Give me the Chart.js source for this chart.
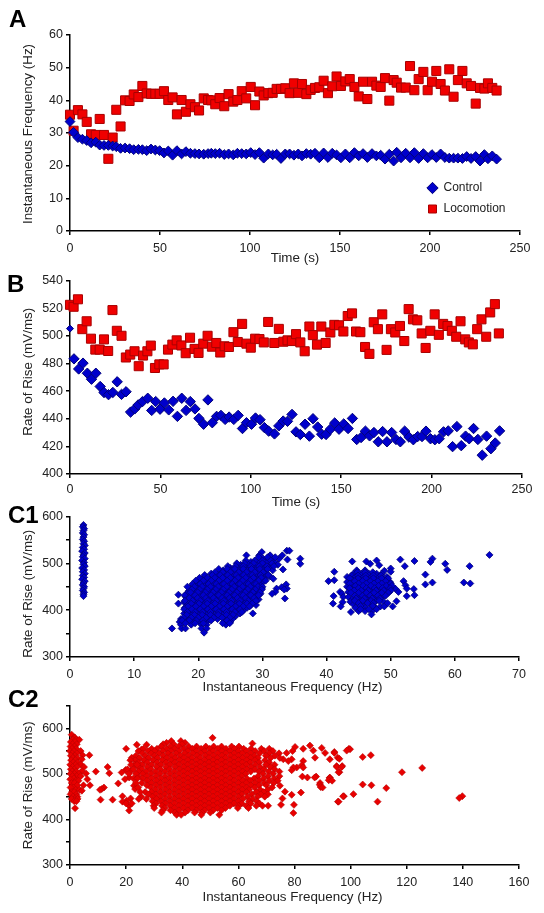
<!DOCTYPE html>
<html>
<head>
<meta charset="utf-8">
<script src="https://cdn.jsdelivr.net/npm/chart.js@4"></script>
<style>
html,body{margin:0;padding:0;background:#fff;width:544px;height:913px;overflow:hidden}
canvas{position:absolute;left:0}
.panel{position:absolute;font:bold 24px "Liberation Sans",Arial,sans-serif;color:#000;line-height:24px}
</style>
</head>
<body>
<canvas id="a" width="544" height="270" style="top:0"></canvas>
<canvas id="b" width="544" height="240" style="top:270px"></canvas>
<canvas id="c1" width="544" height="190" style="top:505px"></canvas>
<canvas id="c2" width="544" height="218" style="top:695px"></canvas>
<div class="panel" style="left:9px;top:7px">A</div>
<div class="panel" style="left:7px;top:272px">B</div>
<div class="panel" style="left:8px;top:503px">C1</div>
<div class="panel" style="left:8px;top:687px">C2</div>
<script>
// Panel A
const timeA=[0,2,4.4,6.9,9.3,11.7,14.3,16.5,18.9,21.3,23.7,25.7,28.1,30.6,33.1,35.4,38,40.2,42.6,45,47.4,49.8,52.2,54.6,57,59.4,62,64.4,66.9,69.4,71.7,74.3,76.7,78.5,80.7,83.1,85.7,88.1,90.7,93,95.4,97.9,100.4,102.8,105.2,107.6,110.2,112.6,114.8,117.2,119.6,122,124.4,126.8,128.9,131.3,133.7,136.1,138.5,140.9,143.3,145.7,148.1,150.5,153,155.4,158,160.4,162.8,165.2,167.8,170.2,172.6,175,177.4,179.8,181.5,183.9,186.5,188.9,191.3,193.7,196.3,198.7,201.1,203.5,205.9,208.3,210.7,213.1,215.5,218,220.4,222.8,225.4,227.8,230.2,232.2,234.6,237];
const locoFreqA=[35.6,30.7,37,35.7,33.4,29.6,29.4,34.3,29.4,22.1,28.6,37.1,32,40,39.8,41.8,41,44.4,42.1,42,42,42,42.8,40.1,40.9,35.7,40.1,36.5,38.8,37.9,36.9,40.6,40.1,40,38.8,40.7,38.2,41.9,39.6,40.1,42.8,40.6,44.1,38.5,42.7,41.5,42.2,42.3,43.5,43.5,43.7,42.2,45.2,42.3,45,41.9,43.2,43.8,44,46,42.2,44.3,47.3,44.4,45.8,46.5,44.1,41.2,45.7,40.4,45.7,44.5,44.1,46.8,39.9,46.2,45.4,43.9,43.9,50.5,43.1,46.5,48.7,43.1,45.7,49,45,43,49.5,41.1,46.2,49,45.2,44.4,39,43.8,43.6,45.2,43.8,43];
const controlFreqA=[33.5,30.2,28.6,28.1,27.7,27,27.2,26.3,26.2,26.2,26,25.8,25.3,25.4,25.2,24.9,25,24.9,24.6,25.1,24.8,24.6,23.9,24.5,23.2,24.6,23.6,24.3,23.8,23.7,23.6,23.5,23.7,23.8,23.7,23.8,23.4,23.6,23.3,23.8,23.7,23.6,24,23.4,24,22.3,23.6,23.3,23.5,22.2,23.6,23.6,23.2,23.6,23,23.7,23.5,23.8,22.4,23.9,22.5,23.8,23.3,22.4,23.6,22.4,24,23,23.7,22.5,23.7,23,23.2,22,23.5,21.4,24.1,22.4,23.8,22.4,24,22.2,23.7,22.4,23.4,22.5,23.6,22.5,22.3,22.3,22.3,22.2,22.8,22.2,22.8,21.4,23.4,22.1,23,22];
// Panel B
const locoTimeB=[0,2,4.4,6.8,9.2,11.6,14,16.4,18.8,21.1,23.5,25.9,28.5,30.9,33.3,35.7,38,40.4,42.8,44.7,47,49.4,51.8,54.2,56.6,59,61.6,64,66.4,68.9,71.1,73.7,76.1,78.5,80.9,83.1,85.5,87.9,90.4,92.8,95.2,97.6,100,102.4,104.8,107.2,109.6,113,115.5,118,120.3,122.7,125,127.4,129.8,132.4,134.3,136.6,139,141.4,144,146.2,148.8,151.2,153.6,156,158.2,160.6,163.2,165.6,168,170.3,172.7,175.1,177.5,179.9,182.5,184.9,187.3,189.7,192.1,194.5,196.7,199.3,201.7,204,206.4,208.8,211.2,213.6,216,218.6,220.6,222.8,225.2,227.6,230.2,232.4,235,237.2];
const locoRiseB=[522.4,521,526.4,504.8,510.5,497.9,490,490,497.4,489,518.6,503.6,500,484.3,486.4,488.8,478,485.7,488.8,492.9,476.7,479.3,479.3,490,493.6,496.7,493,487.4,498.6,490.5,487.6,494.3,500,492.1,494.8,487.9,492.4,491.9,502.6,495.5,508.6,494.3,491.4,497.9,497.6,495.2,510,494.8,505,495.7,496.7,496.2,501.2,495.2,488.8,506.7,500.5,493.6,506.7,494.8,502.4,507.9,507.6,503.1,514.3,516.2,503.1,502.6,491.9,486.9,509.8,504.8,515.5,489.8,504.8,502.4,507.1,496.2,519.3,511.9,511.2,501.7,491.2,503.6,515.5,500.7,508.6,507.1,503.6,499.3,510.5,497.4,495.2,493.8,504.8,511.9,499.3,516.9,522.9,501.7];
const controlTimeB=[0,2.2,4.8,7.2,9.6,11.9,14.3,16.7,18.8,21.3,23.7,26.1,28.5,31,33.5,35.8,37.7,40.1,43,45.2,47.4,49.8,52.2,54.6,57,59.4,61.8,64.2,66.5,69.1,71.3,73.9,76.3,78.7,81.1,83.5,85.8,88,90.6,93,95.4,97.6,100.4,102.6,105.1,107.5,109.9,113.1,115.5,117.9,120.3,122.8,125,127.4,130,132.4,134.4,137,139.2,141.6,144,146.4,148.8,151.4,153.8,156.2,158.6,161,163.4,165.7,168.1,170.5,172.9,175.3,177.9,180.3,182.7,185.1,187.5,189.9,192.3,194.7,196.9,199.4,201.8,204.2,206.6,209.2,211.6,214,216.4,218.8,220.8,223.2,225.6,228,230.4,232.8,235.2,237.6];
const controlRiseB=[505.2,483.3,476,480.2,472.9,468.6,472.9,463.3,459,457.4,459,466.7,457.6,459.5,444.8,447.1,450,452.4,454.8,446,452.4,446.9,451.4,446.4,452.6,441.7,454.8,446,452.4,447.1,440.2,436,453.6,437.1,441.7,442.4,439.5,441.2,439.5,442.4,432.9,437.1,436,440.5,439.3,433.6,431,429,434.8,438.3,438.1,443.1,430.5,428.6,436,427.4,440,434,428.8,428.6,432.4,436.9,432.4,436.2,432.9,440.2,425,426.4,431,427.6,430,423.3,430.7,423.3,430,425,423.3,431,426.7,424.8,427.1,427.1,431,425.5,424.8,425.5,430.5,431.2,419.8,434.3,420.5,427.4,425.5,432.9,425,413.6,427.4,418.3,422.4,431.2];
// Panel C1: first value of a row is the rate of rise, the rest are frequencies read at that height
const c1ColumnRise=[582,578,574,570,565,561,556,551,547,542,538,534,530,526,522,518,514,510,506,502,498,494,490,486,482,478,474,470,466,462,458,454,450,446,442,438,434,430];
const c1ColumnFreq=[2.1,2,2.2,2.1,2,2.2,2.1,2,2.2,2.1,2.3,2,2.2,1.9,2.3,2.1,2,2.3,1.9,2.2,2.1,2.3,1.9,2.2,2,2.3,2,2.2,1.9,2.3,2.1,2,2.2,2.1,2,2.2,2.1,2.1];
const c1MainRows=[
[510,30.1,31.5,32.6],[503,28.2,29.3,30.6,31.9],[497,26.6,27.8,29,30.2,31.3,32.4],[490,25,26.2,27.5,28.7,30,31],
[485,23.9,25.1,26.3,27.6,28.9,30.2,31.6],[478,22,23.2,24.4,25.7,26.9,28.2,29.4,30.7],[472,22.8,24,25.2,26.5,27.7,29,30.3,31.2],
[466,20.6,21.8,23.1,24.3,25.6,26.8,28,29.2,30.4],[460,20,21.3,22.6,23.8,25.1,26.3,27.5,28.8,30.1],[453,19.7,20.9,22.1,23.4,24.6,25.9,27.1,28.4,29.7],
[447,18.8,20,21.3,22.5,23.8,25,26.3,27.5,28.8,29.9],[441,18.5,19.5,20.8,22,23.3,24.5,25.8,27,28.3,29.5],[435,18.2,19.3,20.4,21.7,22.9,24.1,25.4,26.6,27.9,29.1,29.7],
[429,18,19,20.2,21.4,22.6,23.9,25.1,26.4,27.6,28.9],[423,18.1,19.4,20.6,21.8,23,24.3,25.5,26.8,28,29.4],[417,17.8,18.8,20,21.2,22.4,23.7,24.9,26.2,27.4,28.7],
[411,18.3,19.5,20.8,22,23.3,24.5,25.8,27,28.2,29],[405,17.9,19,20.2,21.4,22.7,23.9,25.2,26.4,27.6],[399,18.5,19.7,20.9,22.1,23.4,24.6,25.9,27],
[393,17.8,19.1,20.3,21.5,22.8,24,25.3,26.5,28.5],[387,18.6,19.8,21,22.3,23.5,24.8,25.8],[381,17.3,18.3,19.4,20.6,21.8,23,24.3,25.3],
[375,17.1,18.1,19.1,20.2,21.3,24,25],[369,17.3,18.9,20.5,21.3,24.3],[361,15.9,17.4,18,20.5,21.3],[352,20.9],
[527,33.8,34.2],[524,29.9],[517,27.5,29.5,31.2,33.1],[513,32],[508,33.9],[510,35.9],[499,35.9],[487,33.2],[467,31.7],[455,33.7],[449,33],[446,32.2,33.8],[444,33.4],[439,32],[435,31.5],[425,33.5],[433,16.9],[414,16.9],
[513,29.4,30.8],[506,27.4,28.8,30,31.3],[500,26,27.2,28.6,30,31.5],[494,24.6,25.8,27,28.2,29.5,30.7,31.8],[488,23.2,24.5,25.7,27,28.3,29.6,30.8],[481,22.6,23.8,25,26.3,27.5,28.8,30.1],[475,21,22.2,23.4,24.6,25.9,27.1,28.4,29.7,30.9],[469,20.2,21.4,22.6,23.8,25,26.2,27.4,28.6,29.8],[463,19.6,20.8,22,23.2,24.5,25.7,26.9,28.1,29.4,30.5],[456,19.1,20.3,21.6,22.8,24,25.3,26.5,27.8,29],[450,18.3,19.4,20.6,21.9,23.1,24.4,25.6,26.9,28.1,29.3,30],[444,19,20.2,21.4,22.7,23.9,25.2,26.4,27.7,28.9,29.9],[438,18.8,19.9,21.1,22.3,23.6,24.8,26,27.3,28.5,29.6],[432,17.9,19.5,20.8,22,23.2,24.5,25.7,27,28.2,29.4],[426,18.6,19.9,21.2,22.4,23.7,24.9,26.1,27.4,28.7],[420,17.9,19.1,20.3,21.5,22.8,24,25.2,26.5,27.8,29],[414,18.9,20.1,21.4,22.6,23.9,25.1,26.4,27.6,28.4],[408,18.4,19.6,20.8,22,23.3,24.5,25.8,27,28],[402,17.8,19,20.3,21.5,22.8,24,25.3,26.5],[396,18.3,19.5,20.7,21.9,23.2,24.4,25.7,26.8],[390,18.2,19.4,20.6,21.9,23.1,24.4,25.4],[384,17.7,18.9,20,21.2,22.4,23.7,24.9],[378,17.5,18.6,19.7,20.7,22,24.5],[372,18,19.5,20.8,23.8,24.9]];
const c1RightRows=[
[518,65.4],[510,56.5],[508,51.5],[505,53.7],[504,44,46.2],[503,56.2],[499,46.8,58.5],[506,47.8],[496,48.2],[494,52.2,62.3],[489,50],[486,58.8],[482,41.2,50],[484,49],
[485,44.7,46],[478,44.2,45.4,46.6,47.8,48.6],[476,55.4],[474,43.9],[471,43.2,44.5,45.8,47,48.2,49.4],[465,44,45.2,46.4,47.6,48.9],[464,41.2],[462,40.3,52],
[460,43.2,44.6,45.9,47.1,48.3,49.9],[459,56.5,61.4],[457,62.4],[455,44.1,45.3,46.6,47.8,49,55.4],[453,52.3],[450,43.2,44.6,45.9,47.2,48.4,49.7],[446,50.7,52.5],[445,44,45.2,46.6,47.9,49.2,53.6],
[439,43.4,44.6,45.9,47.1,48.3,49.8,42.1,51.2],[435,42.4,44.2,45.5,46.7,48],[432,53.7,49],[430,41.1,52.5],[428,42.6,43.4,44.8,46,47.2,48.5],[423,44,45.3,46.6,47.8],[419,50.9],[418,43.7,45,46.2,47.6,48.9],[417,42.5],[414,41],
[412,44.2,45.6,47],[408,42.2,48.4,49,50.3],[405,44.5,46,47.6],[398,45,46,47.1],[396,43.8],[391,47],
[481,44.8,46,47.2],[474,44.9,46.1,47.3,48.5],[468,43.6,44.9,46.1,47.3,48.6,49.6],[462,44.4,45.6,46.8,48,49.2],[457,43.6,45,46.2,47.4,48.6,50],[452,44.5,45.7,46.9,48.1,49.3,50.2],[447,43.6,45,46.2,47.5,48.7,49.9],[442,44.3,45.4,46.5,47.7,48.9,50],[437,43.8,45,46.2,47.4,48.6,49.6],[431,44.4,45.6,46.8,48,49.2],[425,44.6,45.9,47.1,48.3],[420,44.4,45.6,46.9,48.2],[415,45,46.4,47.3,49.5],[409,45.3,47.2],[402,45.3,46.6,47.8]];
// Panel C2
const c2StripRows=[[586,.6],[580,1.5],[579,1.8],[575,1,2.2,3.3],[570,.3,1.8],[565,.9,2.4],[560,1.6,.2],[555,2.2,.7],[550,0,1.4,3.8],[545,.8,2.4],[541,4.5,6.9],[540,1.7,.3],[535,1,2.6],[532,4.2],[530,.4,1.9],[525,1.2,2.7],[521,3.8],[520,.1,2],[515,.9,2.5,5],[510,1.5,.3],[506,4.2],[505,.8,2.2],[501,5.7],[500,1.6,.2,3.2],[495,2.4,3.8,.9],[490,1.4],[488,6.2,.1],[485,2.1,3],[480,.6,1.7],[475,2.6,4.8,7.1],[470,1.2,.2],[465,2,3.4],[463,4.2],[460,.7,1.5],[455,2.3,.2],[450,1.1,2.6],[445,1.7,.6,2.7],[440,1.5,2.3],[424.6,1.8]];
const c2MainRows=[
[572,36.1,39.5],[568,34.4,41],[565,33.2,37,39.9],[560,32.5,35.8,38.7,42.3,45.1,48.4,51.2,54,57.6,60.2],
[555,26.2,29.1,31,34.3,37.2,40.6,43.6,46.7,49.8,52.7,55.6,58.6,61.9,64.5,68.2,71],[550,24.4,27.8,30.2,33.1,36,38.9,42,45,48,51,54.1,57,60,62.8,66,69.2,72.3],
[545,25.8,28.9,31.7,34.9,37.8,40.8,43.7,46.6,49.6,52.6,55.5,58.5,61.4,64.4,67.6,71,74.5],[540,23.5,26.9,30.1,33.2,36.2,39.3,42.2,45.2,48.2,51.1,54.1,57.1,60,63,65.8,69.8,73],
[535,24.8,28,31.2,34.5,37.5,40.6,43.5,46.4,49.5,52.5,55.4,58.5,61.5,64.4,67,71.5,74.8],[530,23.2,26.4,29.6,32.9,36,39,42,45,48,51,54,57,60,63,65.9,69.5],
[525,24.4,27.6,31,34.2,37.3,40.4,43.4,46.5,49.5,52.4,55.4,58.4,61.4,64.2,67.5,71],[520,23,25.8,29.1,32.4,35.7,38.8,41.9,45,48,51,54,57,59.9,62.8,66,69.8,72.9],
[515,24.4,27.5,30.9,34.2,37.4,40.5,43.5,46.4,49.5,52.4,55.5,58.5,61.4,64.5,67.7,71.4],[510,25.6,28.8,32.2,35.5,38.9,42,45,48,51,54,57,60,63,65.9,69.1,72.9],
[505,24.4,27.2,30.5,33.8,37.2,40.4,43.5,46.5,49.5,52.5,55.5,58.5,61.5,64.4,67.4,70.8,74.6],[500,25.9,28.9,32.1,35.6,38.8,41.9,45,48,51,54,57,60,62.6,68.8,72.4],
[495,24.2,27.4,30.6,33.9,37.2,40.4,43.5,46.5,49.5,52.5,55.4,58.4,61.2,67,70.6,74.6],[490,25.8,29,32.3,35.5,38.8,42,45,48,51,54,57,60,63,65.6,69,72.8],
[485,27.4,30.7,33.9,37.2,40.4,43.5,46.5,49.5,52.5,55.4,58.4,61.5,64.2,67.4,71,74],[480,25.6,29,32.2,35.5,38.8,42,45,48,51,54,57,60,62.8,65.9,69.2,72.6],
[475,27.4,30.6,33.9,37.2,40.4,43.5,46.5,49.5,52.5,55.5,58.4,61.4,64.4,67.4,70],[470,28.8,32.2,35.5,38.8,42,45,48,51,54,57,60,62.9,65.8,72],
[465,30.5,33.9,37.2,40.4,43.5,46.5,49.5,52.5,55.5,58.4,61.4,63.8,67.8,70.4],[460,26.8,29,32.2,35.5,38.8,42,45,48,51,54,57,60,62.9,66.4,69],
[455,28,30.6,33.8,37.2,40.4,43.5,46.5,49.5,52.5,55.5,58.4,61.2,64.8,68,70.5],[450,25.4,29.4,32.2,35.5,38.8,42,45,48,51,54,57,60,63.2,66.8,69.4],
[445,27.2,30.8,33.9,37.2,40.4,43.5,46.5,49.5,52.5,55.5,58.4,61.6,65],[440,29.4,32.4,35.6,38.8,42,45,48,51,54,57,60,63.8,66.6],
[435,30.6,34,37.2,40.4,43.5,46.5,49.5,52.5,55.5,58.4,61.2,64.4,67.5],[430,29.8,32.8,35.7,38.8,42,45,48,51,54,57,60,62.8,66.4,68.6,70.6],
[425,30,33.8,37.2,40.4,43.5,46.5,49.5,52.5,55.4,59.8,63.6],[420,33,35.8,38.8,42,45,48,51,54],[415,32.6,37.4,41,44.4,47,50],[410,38,39.6,46.8,53.2],
[530,21.5],[520,21.8,23.9],[510,20.5,22.6],[500,21,23.5],[490,22.6,24],[480,23.5],[470,24.3],[460,25],[445,24.5],[435,20,22]];
const c2SparseRows=[[579,50.8],[566.6,65],[564,23.8,27.3],[562,85.5],[559,80.2],[557,89.7],[555,20,83.1,99.4],[554,99.8],[553.6,25.5],[551,86.7,98.6],[550,79.3],[548,94.2],[546,77.2,90.9,94.2],[541,107.2],[537,104.3],[535.5,22,87.3,95.4],[533,96],[532,76,79,92.6],[528,77.8,83.1],[519,82.6],[517,95,97],[515,13.4,95.1,96.8],[514,80.8,79.6,83.1],[513,125.5],[508.6,19.8],[508,79],[506.5,21.6],[505,9.2],[503.6,118.3,96,95.7],[503,18.4],[501.4,14],[494,82.8,87.7],[492,21.1,84.6,92.6,87.2],[491,92.5],[488.4,19.6],[486,92.2],[485,93.4],[480,89.1],[479,17.2],[476,89],[476.6,104.3],[475,107.4],[474,22.8,74.8],[471,89.3],[470,12.1,90],[468.7,112.7],[466.6,11.3,23.2],[465,10.7],[461,76.6],[459,82.3],[455.5,101],[454,79],[451,97.6,139.8],[450.7,18.7,97.3],[447,138.7],[446,21.6,75.7],[443.4,10.9,15.2],[441,20.2],[439,18.7,95.5,95.7,109.6],[432,75.2,79.8],[430,21.1],[419.5,21.1],[414,79.6]];

const rowsToPoints=rows=>rows.flatMap(([rise,...freqs])=>freqs.map(f=>({x:f,y:rise})));
const c1Points=[...c1ColumnFreq.map((f,i)=>({x:f,y:c1ColumnRise[i]})),...rowsToPoints(c1MainRows),...rowsToPoints(c1RightRows)];
const c2Points=[...rowsToPoints(c2StripRows),...rowsToPoints(c2SparseRows),...rowsToPoints(c2MainRows)];

const FONT='"Liberation Sans",Arial,sans-serif';
const BLUE='#0000cc',BLUE_EDGE='#00007a',RED='#f00000',RED_EDGE='#a80000';

function shiftTitle(s,dx,dy){
  if(!dx&&!dy)return;
  if(s.__shifted)return;
  s.__shifted=true;
  const orig=s.drawTitle;
  s.drawTitle=function(){const c=this.ctx;c.save();c.translate(dx||0,dy||0);orig.call(this);c.restore();};
}
function scales(o){
  const common={
    border:{display:true,color:'#000',width:1.5},
    grid:{drawOnChartArea:false,drawTicks:true,tickLength:4,color:'#000',lineWidth:1.5}
  };
  return {
    x:{...common,type:'linear',min:o.x[0],max:o.x[1],
      afterFit:s=>{s.height=o.xh;shiftTitle(s,o.xtdx,0)},
      ticks:{stepSize:o.x[2],color:'#222',font:{family:FONT,size:12.5},padding:o.xpad,maxRotation:0,autoSkip:false},
      title:{display:true,text:o.xt,color:'#222',font:{family:FONT,size:13.4},padding:{top:0,bottom:o.xtb}}},
    y:{...common,type:'linear',min:o.y[0],max:o.y[1],
      afterFit:s=>{s.width=70;shiftTitle(s,0,o.ytdy)},
      ticks:{stepSize:o.y[2],color:'#222',font:{family:FONT,size:12.5},padding:3,autoSkip:false,
        callback:v=>(o.y[3]&&v%o.y[3]!==0)?'':String(v)},
      title:{display:true,text:o.yt,color:'#222',font:{family:FONT,size:13.4},padding:{top:20,bottom:0}}}
  };
}
function make(id,datasets,o,plugins,legend){
  return new Chart(document.getElementById(id),{
    type:'scatter',
    data:{datasets},
    plugins:plugins||[],
    options:{
      responsive:false,animation:false,devicePixelRatio:1,
      layout:{padding:{left:0,right:o.right,top:o.top,bottom:0}},
      plugins:{legend:legend||{display:false},tooltip:{enabled:false},title:{display:false}},
      scales:scales(o)
    }
  });
}
const ds=(label,data,style,r,bg,edge,extra)=>({label,data,pointStyle:style,pointRadius:r,pointBorderWidth:1,pointBackgroundColor:bg,pointBorderColor:edge,backgroundColor:bg,borderColor:edge,showLine:false,clip:false,...extra});
const moveLegend={id:'moveLegend',beforeDraw(c){if(c.legend){c.legend.left=418.5;c.legend.top=173;c.legend.right=525;c.legend.bottom=230;}}};

make('a',[
  ds('Control',controlFreqA.map((v,i)=>({x:timeA[i],y:v})),'rectRot',4.9,BLUE,BLUE_EDGE),
  ds('Locomotion',locoFreqA.map((v,i)=>({x:timeA[i],y:v})),'rect',6.4,RED,RED_EDGE)
],{x:[0,250,50],y:[0,60,10],xt:'Time (s)',yt:'Instantaneous Frequency (Hz)',xh:39,xpad:6,xtb:4,right:24,top:35,ytdy:1},[moveLegend],
{display:true,position:'chartArea',align:'start',labels:{usePointStyle:true,boxWidth:10,boxHeight:8,padding:9,color:'#222',font:{family:FONT,size:12}}});

make('b',[
  ds('Control',controlRiseB.map((v,i)=>({x:controlTimeB[i],y:v})),'rectRot',c=>c.dataIndex===0?3.5:5.2,BLUE,BLUE_EDGE),
  ds('Locomotion',locoRiseB.map((v,i)=>({x:locoTimeB[i],y:v})),'rect',6.4,RED,RED_EDGE)
],{x:[0,250,50],y:[400,540,20],xt:'Time (s)',yt:'Rate of Rise (mV/ms)',xh:36,xpad:4,xtb:0,right:22,top:8,ytdy:-5.5});

make('c1',[ds('Control',c1Points,'rectRot',3.5,BLUE,BLUE_EDGE,{pointBorderWidth:.8})],
{x:[0,70,10],y:[300,600,50,100],xt:'Instantaneous Frequency (Hz)',yt:'Rate of Rise (mV/ms)',xh:38,xpad:6,xtb:0,right:25,top:11.5,xtdx:-2,ytdy:7});

make('c2',[ds('Locomotion',c2Points,'rectRot',3.5,'#e80000','#b80000',{pointBorderWidth:.6})],
{x:[0,160,20],y:[300,650,50,100],xt:'Instantaneous Frequency (Hz)',yt:'Rate of Rise (mV/ms)',xh:48,xpad:6,xtb:8,right:25,top:9,xtdx:-2});
</script>
</body>
</html>
